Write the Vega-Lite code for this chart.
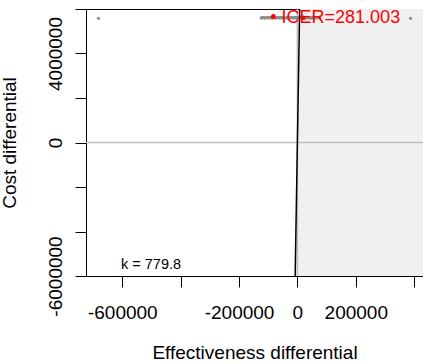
{
  "$schema": "https://vega.github.io/schema/vega-lite/v6.json",
  "width": 337,
  "height": 267,
  "autosize": {"type": "none"},
  "padding": {"left": 86, "top": 9, "right": 0, "bottom": 88},
  "background": "white",
  "config": {
    "view": {"stroke": null},
    "axis": {
      "labelFont": "Liberation Sans",
      "labelFontSize": 19,
      "labelColor": "black",
      "titleFont": "Liberation Sans",
      "titleFontSize": 19,
      "titleFontWeight": "normal",
      "titleColor": "black",
      "tickColor": "black",
      "tickSize": 11,
      "tickWidth": 1,
      "domainColor": "black",
      "domainWidth": 1,
      "grid": false,
      "labelFlush": false,
      "labelOverlap": false,
      "labelBound": false
    }
  },
  "datasets": {
    "region": [
      {"e": -7694, "c": -6000000, "e2": 430400},
      {"e": 7694, "c": 6000000, "e2": 430400}
    ],
    "kline": [
      {"e": -7694, "c": -6000000},
      {"e": 7694, "c": 6000000}
    ],
    "hzero": [{"c": 0}],
    "vzero": [{"e": 0}],
    "sims": [
      {"e": -681600, "c": 5580000},
      {"e": 387650, "c": 5580000},
      {"e": -124000, "c": 5600000},
      {"e": -120000, "c": 5610000},
      {"e": -118000, "c": 5620000},
      {"e": -114000, "c": 5600000},
      {"e": -110000, "c": 5590000},
      {"e": -106000, "c": 5615000},
      {"e": -102000, "c": 5630000},
      {"e": -98000, "c": 5600000},
      {"e": -95000, "c": 5610000},
      {"e": -91000, "c": 5625000},
      {"e": -88000, "c": 5600000},
      {"e": -84000, "c": 5595000},
      {"e": -80000, "c": 5620000},
      {"e": -76000, "c": 5605000},
      {"e": -73000, "c": 5590000},
      {"e": -70000, "c": 5615000},
      {"e": -66000, "c": 5630000},
      {"e": -62000, "c": 5600000},
      {"e": -58000, "c": 5610000},
      {"e": -54000, "c": 5625000},
      {"e": -51000, "c": 5600000},
      {"e": -47000, "c": 5590000},
      {"e": -44000, "c": 5620000},
      {"e": -40000, "c": 5605000},
      {"e": -37000, "c": 5590000},
      {"e": -33000, "c": 5615000},
      {"e": -30000, "c": 5630000},
      {"e": -27000, "c": 5600000},
      {"e": -24000, "c": 5610000},
      {"e": -20000, "c": 5625000},
      {"e": -17000, "c": 5600000},
      {"e": -13000, "c": 5595000},
      {"e": -10000, "c": 5620000},
      {"e": -7000, "c": 5605000},
      {"e": -4000, "c": 5590000},
      {"e": -1000, "c": 5615000},
      {"e": 2000, "c": 5630000},
      {"e": 5000, "c": 5600000},
      {"e": 8000, "c": 5610000},
      {"e": 11000, "c": 5625000},
      {"e": 14000, "c": 5600000},
      {"e": 17000, "c": 5595000},
      {"e": 20000, "c": 5620000},
      {"e": 23000, "c": 5605000},
      {"e": 26000, "c": 5590000},
      {"e": 29000, "c": 5615000},
      {"e": 32000, "c": 5630000},
      {"e": 35000, "c": 5600000},
      {"e": 38000, "c": 5610000},
      {"e": 42000, "c": 5625000},
      {"e": 45000, "c": 5600000},
      {"e": 49000, "c": 5595000},
      {"e": 52000, "c": 5620000},
      {"e": 56000, "c": 5605000},
      {"e": 60000, "c": 5590000},
      {"e": 64000, "c": 5615000},
      {"e": 68000, "c": 5610000},
      {"e": 72000, "c": 5620000},
      {"e": 76000, "c": 5600000}
    ],
    "mean": [{"e": 20000, "c": 5610000}],
    "icer": [{"e": -93000, "c": 5610000, "label": "• ICER=281.003"}],
    "klabel": [{"e": -604500, "c": -5500000, "label": "k = 779.8"}]
  },
  "resolve": {"axis": {"x": "independent"}},
  "layer": [
    {
      "data": {"name": "region"},
      "mark": {"type": "area", "orient": "horizontal", "color": "#F0F0F0", "clip": true},
      "encoding": {
        "y": {
          "field": "c", "type": "quantitative",
          "scale": {"domain": [-6000000, 6000000], "nice": false, "zero": false},
          "axis": {
            "title": "Cost differential",
            "values": [-6000000, -4000000, -2000000, 0, 2000000, 4000000, 6000000],
            "labelExpr": "datum.value == 4000000 || datum.value == 0 || datum.value == -6000000 ? toString(datum.value) : ''",
            "labelAngle": -90,
            "labelAlign": "center",
            "labelBaseline": "alphabetic",
            "labelPadding": 14,
            "titleAngle": -90,
            "titleAlign": "center",
            "titleBaseline": "alphabetic",
            "titleX": -71,
            "titleY": 133.5
          }
        },
        "x": {
          "field": "e", "type": "quantitative",
          "scale": {"domain": [-724400, 430400], "nice": false, "zero": false},
          "axis": {
            "orient": "bottom",
            "title": "Effectiveness differential",
            "values": [-600000, -400000, -200000, 0, 200000, 400000],
            "labelExpr": "datum.value == -400000 || datum.value == 400000 ? '' : toString(datum.value)",
            "labelAngle": 0,
            "labelAlign": "center",
            "labelBaseline": "top",
            "labelPadding": 16,
            "titleBaseline": "alphabetic",
            "titleY": 82.6
          }
        },
        "x2": {"field": "e2"}
      }
    },
    {
      "data": {"name": "hzero"},
      "mark": {"type": "rule", "color": "#BEBEBE", "strokeWidth": 1.5},
      "encoding": {
        "y": {"field": "c", "type": "quantitative", "scale": {"domain": [-6000000, 6000000], "nice": false, "zero": false}}
      }
    },
    {
      "data": {"name": "vzero"},
      "mark": {"type": "rule", "color": "#BEBEBE", "strokeWidth": 1.5},
      "encoding": {
        "x": {
          "field": "e", "type": "quantitative",
          "scale": {"domain": [-724400, 430400], "nice": false, "zero": false},
          "axis": {"orient": "top", "title": null, "labels": false, "ticks": false, "domain": true}
        }
      }
    },
    {
      "data": {"name": "sims"},
      "mark": {"type": "circle", "color": "#8C8C8C", "opacity": 1, "size": 10, "clip": true},
      "encoding": {
        "x": {"field": "e", "type": "quantitative", "scale": {"domain": [-724400, 430400], "nice": false, "zero": false}, "axis": null},
        "y": {"field": "c", "type": "quantitative", "scale": {"domain": [-6000000, 6000000], "nice": false, "zero": false}}
      }
    },
    {
      "data": {"name": "kline"},
      "mark": {"type": "line", "color": "black", "strokeWidth": 1.5, "clip": true},
      "encoding": {
        "x": {"field": "e", "type": "quantitative", "scale": {"domain": [-724400, 430400], "nice": false, "zero": false}, "axis": null},
        "y": {"field": "c", "type": "quantitative", "scale": {"domain": [-6000000, 6000000], "nice": false, "zero": false}}
      }
    },
    {
      "data": {"name": "mean"},
      "mark": {"type": "circle", "color": "red", "opacity": 1, "size": 20},
      "encoding": {
        "x": {"field": "e", "type": "quantitative", "scale": {"domain": [-724400, 430400], "nice": false, "zero": false}, "axis": null},
        "y": {"field": "c", "type": "quantitative", "scale": {"domain": [-6000000, 6000000], "nice": false, "zero": false}}
      }
    },
    {
      "data": {"name": "icer"},
      "mark": {"type": "text", "color": "red", "font": "Liberation Sans", "fontSize": 18, "align": "left", "baseline": "middle"},
      "encoding": {
        "x": {"field": "e", "type": "quantitative", "scale": {"domain": [-724400, 430400], "nice": false, "zero": false}, "axis": null},
        "y": {"field": "c", "type": "quantitative", "scale": {"domain": [-6000000, 6000000], "nice": false, "zero": false}},
        "text": {"field": "label"}
      }
    },
    {
      "data": {"name": "klabel"},
      "mark": {"type": "text", "color": "black", "font": "Liberation Sans", "fontSize": 14.5, "align": "left", "baseline": "middle"},
      "encoding": {
        "x": {"field": "e", "type": "quantitative", "scale": {"domain": [-724400, 430400], "nice": false, "zero": false}, "axis": null},
        "y": {"field": "c", "type": "quantitative", "scale": {"domain": [-6000000, 6000000], "nice": false, "zero": false}},
        "text": {"field": "label"}
      }
    }
  ]
}
